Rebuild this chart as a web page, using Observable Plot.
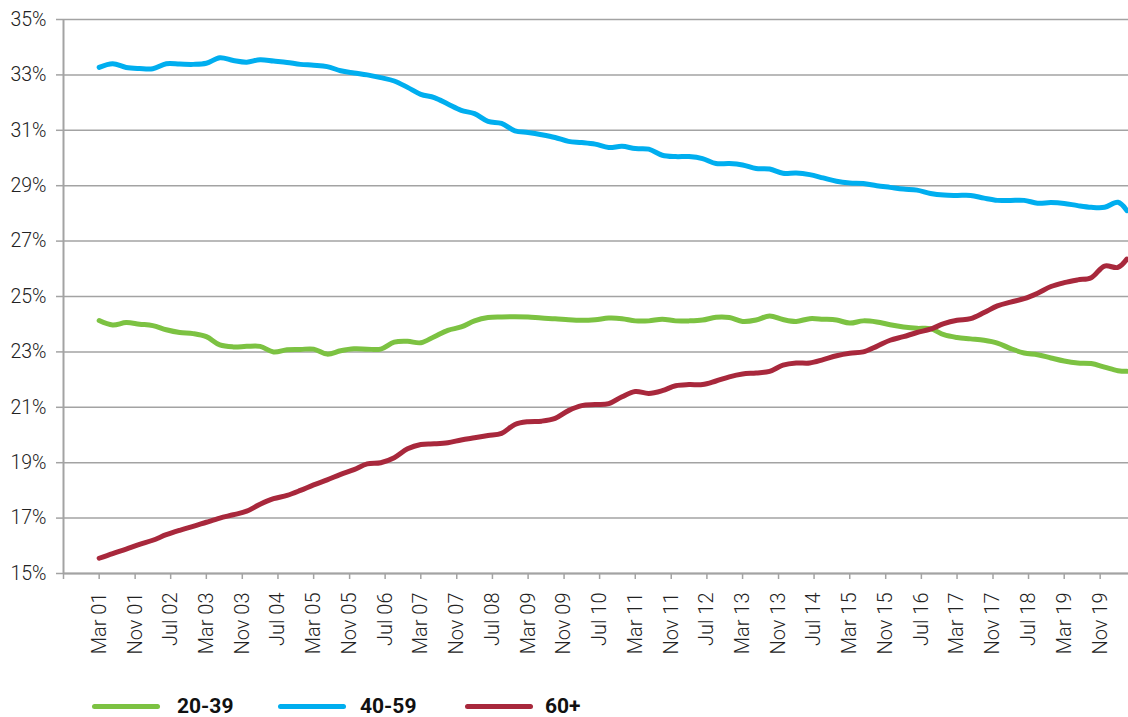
<!DOCTYPE html>
<html><head><meta charset="utf-8">
<script src="https://cdn.jsdelivr.net/npm/d3@7"></script>
<script src="https://cdn.jsdelivr.net/npm/@observablehq/plot@0.6"></script>
<style>
body{margin:0;background:#fff;font-family:Roboto,sans-serif;}
#chart{position:relative;width:1128px;height:717px;overflow:hidden;}
.legend{position:absolute;top:694px;left:0;width:1128px;height:24px;}
.item{position:absolute;top:0;height:24px;display:flex;align-items:center;}
.sw{width:68px;height:5px;border-radius:3px;}
.lbl{font-weight:700;font-size:21px;color:#111;}
</style></head><body><div id="chart"></div>
<script>
// Series names, colours
const seriesNames = ["20-39", "40-59", "60+"];
const seriesColors = ["#7cc242", "#00aeef", "#a8283c"];

// Quarterly observations from Mar 2001 to Mar 2020, plus May 2020
const obsStart = "2001-03-01";
const obsEndQuarter = "2020-03-01";
const obsLast = "2020-05-01";

const age2039 = [
  24.13, 23.97, 24.06, 24.00,
  23.95, 23.80, 23.70, 23.66,
  23.55, 23.25, 23.18, 23.20,
  23.20, 23.00, 23.08, 23.09,
  23.10, 22.92, 23.04, 23.11,
  23.10, 23.10, 23.35, 23.38,
  23.33, 23.55, 23.78, 23.90,
  24.12, 24.24, 24.26, 24.27,
  24.26, 24.22, 24.20, 24.16,
  24.14, 24.16, 24.22, 24.20,
  24.12, 24.12, 24.18, 24.12,
  24.12, 24.15, 24.25, 24.24,
  24.10, 24.15, 24.30, 24.17,
  24.10, 24.20, 24.18, 24.15,
  24.04, 24.12, 24.08, 23.98,
  23.90, 23.85, 23.84, 23.62,
  23.52, 23.47, 23.42, 23.32,
  23.12, 22.96, 22.90, 22.78,
  22.67, 22.60, 22.58, 22.45,
  22.32, 22.30
];
const age4059 = [
  33.27, 33.40, 33.27, 33.23,
  33.22, 33.40, 33.39, 33.38,
  33.42, 33.62, 33.52, 33.46,
  33.55, 33.50, 33.45, 33.38,
  33.35, 33.30, 33.15, 33.07,
  33.00, 32.90, 32.78, 32.55,
  32.30, 32.18, 31.95, 31.72,
  31.60, 31.32, 31.25, 30.98,
  30.92, 30.84, 30.74, 30.60,
  30.56, 30.50, 30.38, 30.42,
  30.34, 30.32, 30.10, 30.05,
  30.05, 29.98, 29.80, 29.80,
  29.75, 29.62, 29.60, 29.45,
  29.46, 29.40, 29.28, 29.16,
  29.10, 29.08, 29.00, 28.94,
  28.88, 28.84, 28.72, 28.66,
  28.65, 28.65, 28.55, 28.47,
  28.47, 28.47, 28.37, 28.39,
  28.36, 28.28, 28.22, 28.22,
  28.40, 28.10
];
const age60plus = [
  15.55, 15.72, 15.88, 16.05,
  16.20, 16.40, 16.56, 16.70,
  16.85, 17.00, 17.12, 17.25,
  17.50, 17.70, 17.82, 18.00,
  18.20, 18.38, 18.58, 18.75,
  18.96, 19.00, 19.18, 19.50,
  19.66, 19.68, 19.72, 19.82,
  19.90, 19.98, 20.06, 20.38,
  20.48, 20.50, 20.60, 20.88,
  21.06, 21.10, 21.13, 21.38,
  21.57, 21.50, 21.60, 21.78,
  21.82, 21.82, 21.95, 22.10,
  22.20, 22.24, 22.30, 22.52,
  22.60, 22.60, 22.72, 22.86,
  22.95, 23.00, 23.20, 23.42,
  23.55, 23.70, 23.82, 24.02,
  24.14, 24.20, 24.42, 24.66,
  24.80, 24.92, 25.12, 25.36,
  25.50, 25.60, 25.68, 26.10,
  26.05, 26.35
];

// Axis ticks
const yTicks = [15, 17, 19, 21, 23, 25, 27, 29, 31, 33, 35];
const xTickLabels = ["", "Mar 01", "Nov 01", "Jul 02", "Mar 03", "Nov 03", "Jul 04", "Mar 05", "Nov 05",
  "Jul 06", "Mar 07", "Nov 07", "Jul 08", "Mar 09", "Nov 09", "Jul 10", "Mar 11", "Nov 11",
  "Jul 12", "Mar 13", "Nov 13", "Jul 14", "Mar 15", "Nov 15", "Jul 16", "Mar 17", "Nov 17",
  "Jul 18", "Mar 19", "Nov 19"];
const xTickDates = ["2000-07-01", "2001-03-01", "2001-11-01", "2002-07-01", "2003-03-01", "2003-11-01",
  "2004-07-01", "2005-03-01", "2005-11-01", "2006-07-01", "2007-03-01", "2007-11-01", "2008-07-01",
  "2009-03-01", "2009-11-01", "2010-07-01", "2011-03-01", "2011-11-01", "2012-07-01", "2013-03-01",
  "2013-11-01", "2014-07-01", "2015-03-01", "2015-11-01", "2016-07-01", "2017-03-01", "2017-11-01",
  "2018-07-01", "2019-03-01", "2019-11-01"];

const parse = d3.utcParse("%Y-%m-%d");
const dates = d3.utcMonth.range(parse(obsStart), d3.utcMonth.offset(parse(obsEndQuarter), 1), 3);
dates.push(parse(obsLast));

const seriesValues = [age2039, age4059, age60plus];
const rows = [];
seriesNames.forEach((name, i) => {
  seriesValues[i].forEach((v, j) => rows.push({series: name, date: dates[j], value: v}));
});

const tickDates = xTickDates.map(parse);
const labelOf = new Map(tickDates.map((d, i) => [+d, xTickLabels[i]]));
const xDomain = [parse("2000-07-01"), parse("2020-05-12")];

const chart = Plot.plot({
  width: 1128,
  height: 692,
  marginLeft: 63,
  marginRight: 0,
  marginTop: 19,
  marginBottom: 119,
  style: {fontFamily: "Roboto, sans-serif", background: "#fff", overflow: "visible"},
  x: {type: "utc", domain: xDomain},
  y: {domain: [15, 35]},
  color: {domain: seriesNames, range: seriesColors},
  marks: [
    Plot.gridY(yTicks, {stroke: "#a3a3a3", strokeOpacity: 1, strokeWidth: 1.5}),
    Plot.axisY(yTicks, {tickSize: 7, tickPadding: 10, tickFormat: d => d + "%", fontSize: 19.5, fontWeight: 300, fill: "#222", stroke: "#a3a3a3", strokeWidth: 1.5, label: null}),
    Plot.axisX(tickDates, {tickSize: 6, tickPadding: 13, tickRotate: -90, tickFormat: d => labelOf.get(+d), fontSize: 20, fontWeight: 300, fill: "#222", stroke: "#a3a3a3", strokeWidth: 1.5, label: null}),
    Plot.ruleY([15], {stroke: "#a3a3a3", strokeWidth: 2}),
    Plot.ruleX([xDomain[0]], {stroke: "#a3a3a3", strokeWidth: 2}),
    Plot.lineY(rows, {x: "date", y: "value", z: "series", stroke: "series", strokeWidth: 5, curve: "catmull-rom", strokeLinecap: "round", strokeLinejoin: "round"})
  ]
});
const root = document.getElementById("chart");
root.appendChild(chart);

const legendPos = [{line: 92, text: 177}, {line: 278, text: 360}, {line: 465, text: 545}];
const legend = document.createElement("div");
legend.className = "legend";
seriesNames.forEach((name, i) => {
  const sw = document.createElement("div");
  sw.className = "item";
  sw.style.left = legendPos[i].line + "px";
  sw.innerHTML = `<div class="sw" style="background:${seriesColors[i]}"></div>`;
  legend.appendChild(sw);
  const t = document.createElement("div");
  t.className = "item lbl";
  t.style.left = legendPos[i].text + "px";
  t.textContent = name;
  legend.appendChild(t);
});
root.appendChild(legend);
</script></body></html>
